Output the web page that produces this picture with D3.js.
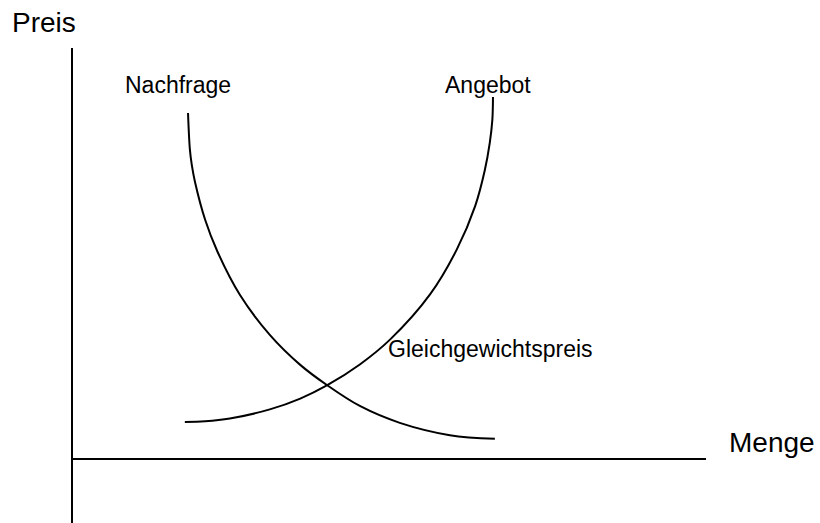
<!DOCTYPE html>
<html>
<head>
<meta charset="utf-8">
<script src="https://cdn.jsdelivr.net/npm/d3@7"></script>
<style>
  body { margin: 0; background: #fff; }
  text { font-family: "Liberation Sans", Arial, sans-serif; fill: #000; }
</style>
</head>
<body>
<svg id="chart"></svg>
<script>
    // Menge / Preis values (0..100 units)
    const nachfrageMenge = [18.3, 18.6, 18.9, 19.4, 21.0, 22.9, 26.5, 31.2, 36.0, 40.2, 45.4, 51.7, 59.6, 66.7];
    const nachfragePreis = [84.2, 75.2, 71.5, 67.4, 58.2, 50.6, 39.9, 30.2, 22.9, 18.0, 12.9, 8.8, 5.8, 4.9];

    const angebotMenge = [17.8, 21.0, 24.9, 31.2, 36.0, 40.2, 45.4, 50.2, 56.5, 60.7, 63.6, 65.1, 65.9, 66.3, 66.4];
    const angebotPreis = [9.0, 9.17, 9.85, 12.07, 14.7, 17.9, 23.0, 29.1, 40.1, 51.0, 61.6, 70.2, 77.0, 82.5, 88.1];

    const curveNames = ["Nachfrage", "Angebot"];
    const axisTitles = ["Preis", "Menge"];
    const pointLabel = "Gleichgewichtspreis";

    function createChart() {
      const width = 820;
      const height = 523;

      const x = d3.scaleLinear().domain([0, 100]).range([72, 706]);
      const y = d3.scaleLinear().domain([0, 100]).range([459, 48]);

      const svg = d3.select("#chart")
        .attr("width", width)
        .attr("height", height);

      // axes as plain lines, the vertical one runs past the origin
      svg.append("line")
        .attr("x1", x(0)).attr("x2", x(0))
        .attr("y1", y(100)).attr("y2", height)
        .attr("stroke", "#000").attr("stroke-width", 2);

      svg.append("line")
        .attr("x1", x(0)).attr("x2", x(100))
        .attr("y1", y(0)).attr("y2", y(0))
        .attr("stroke", "#000").attr("stroke-width", 2);

      const line = d3.line()
        .x(d => x(d[0]))
        .y(d => y(d[1]))
        .curve(d3.curveCatmullRom.alpha(0.5));

      const series = [
        d3.zip(nachfrageMenge, nachfragePreis),
        d3.zip(angebotMenge, angebotPreis)
      ];

      svg.append("g")
        .selectAll("path")
        .data(series)
        .join("path")
        .attr("d", line)
        .attr("fill", "none")
        .attr("stroke", "#000")
        .attr("stroke-width", 2);

      // labels
      svg.append("text").attr("x", 12).attr("y", 32)
        .style("font-size", "28px").text(axisTitles[0]);
      svg.append("text").attr("x", 729).attr("y", 452)
        .style("font-size", "28px").text(axisTitles[1]);

      svg.append("text").attr("x", 125).attr("y", 93)
        .style("font-size", "23px").text(curveNames[0]);
      svg.append("text").attr("x", 445).attr("y", 93)
        .style("font-size", "23px").text(curveNames[1]);

      svg.append("text").attr("x", 388).attr("y", 357)
        .style("font-size", "23px").text(pointLabel);
    }

    createChart();
</script>
</body>
</html>
